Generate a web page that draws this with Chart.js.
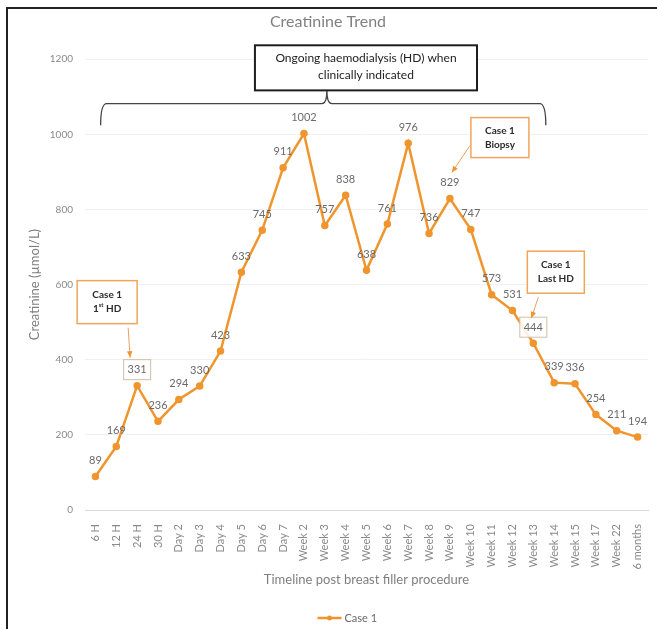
<!DOCTYPE html>
<html>
<head>
<meta charset="utf-8">
<script src="https://cdn.jsdelivr.net/npm/chart.js@4.4.1/dist/chart.umd.min.js"></script>
<style>
  html, body { margin: 0; padding: 0; background: #fff; }
  #wrap { position: relative; width: 657px; height: 629px; }
</style>
</head>
<body>
<div id="wrap"><canvas id="trend"></canvas></div>
<script>
const timeline = ["6 H", "12 H", "24 H", "30 H", "Day 2", "Day 3", "Day 4", "Day 5", "Day 6", "Day 7",
  "Week 2", "Week 3", "Week 4", "Week 5", "Week 6", "Week 7", "Week 8", "Week 9", "Week 10",
  "Week 11", "Week 12", "Week 13", "Week 14", "Week 15", "Week 17", "Week 22", "6 months"];
const creatinine = [89, 169, 331, 236, 294, 330, 423, 633, 745, 911, 1002, 757, 838, 638, 761,
  976, 736, 829, 747, 573, 531, 444, 339, 336, 254, 211, 194];
const seriesName = "Case 1";
const yTicks = [0, 200, 400, 600, 800, 1000, 1200];
const boxedPoints = [2, 21];

const ORANGE = "#F0952E";
const FONT = "Lato, 'Open Sans', sans-serif";

// callouts hanging off single points; box = [dx, dy, w, h], arrow = [x1, y1, x2, y2], px from the point
const callouts = [
  { at: 2,  lines: ["Case 1", "1st HD"],  box: [-60, -105, 60, 43], arrow: [-9, -58, -7, -28] },
  { at: 17, lines: ["Case 1", "Biopsy"],  box: [21, -81, 58, 40],   arrow: [20, -53, 2, -26] },
  { at: 21, lines: ["Case 1", "Last HD"], box: [-6, -92, 57, 42],   arrow: [5, -46, -2, -25] }
];

function arrow(ctx, x1, y1, x2, y2) {
  ctx.save();
  ctx.strokeStyle = "#E8A060";
  ctx.lineWidth = 1;
  ctx.beginPath();
  ctx.moveTo(x1, y1);
  ctx.lineTo(x2, y2);
  ctx.stroke();
  const a = Math.atan2(y2 - y1, x2 - x1);
  ctx.fillStyle = ORANGE;
  ctx.beginPath();
  ctx.moveTo(x2, y2);
  ctx.lineTo(x2 - 7 * Math.cos(a - 0.4), y2 - 7 * Math.sin(a - 0.4));
  ctx.lineTo(x2 - 7 * Math.cos(a + 0.4), y2 - 7 * Math.sin(a + 0.4));
  ctx.closePath();
  ctx.fill();
  ctx.restore();
}

// one callout line, with "1st" written as 1 + superscript
function noteLine(ctx, text, cx, cy) {
  const m = text.match(/^(\d)(st)(.*)$/);
  if (!m) { ctx.fillText(text, cx, cy); return; }
  ctx.font = "bold 10px " + FONT;
  const w1 = ctx.measureText(m[1]).width, w3 = ctx.measureText(m[3]).width;
  ctx.font = "bold 6px " + FONT;
  const w2 = ctx.measureText(m[2]).width;
  let x = cx - (w1 + w2 + w3) / 2;
  ctx.textAlign = "left";
  ctx.font = "bold 10px " + FONT;
  ctx.fillText(m[1], x, cy); x += w1;
  ctx.font = "bold 6px " + FONT;
  ctx.fillText(m[2], x, cy - 4); x += w2;
  ctx.font = "bold 10px " + FONT;
  ctx.fillText(m[3], x, cy);
  ctx.textAlign = "center";
}

const extras = {
  id: "extras",
  afterDatasetsDraw(chart) {
    const { ctx, scales: { x, y } } = chart;
    const pts = chart.getDatasetMeta(0).data;

    // value labels
    ctx.save();
    ctx.font = "11px " + FONT;
    ctx.textAlign = "center";
    ctx.textBaseline = "middle";
    pts.forEach((p, i) => {
      const ly = p.y - 16;
      if (boxedPoints.includes(i)) {
        ctx.fillStyle = "rgba(255,255,255,0.85)";
        ctx.fillRect(p.x - 13.5, ly - 10, 27, 20);
        ctx.strokeStyle = "#D2BEA6";
        ctx.lineWidth = 1;
        ctx.strokeRect(p.x - 13.5, ly - 10, 27, 20);
      }
      ctx.fillStyle = "#6a6a6a";
      ctx.fillText(String(creatinine[i]), p.x, ly);
    });

    // callout boxes and arrows
    callouts.forEach(c => {
      const p = pts[c.at];
      const [dx, dy, w, h] = c.box;
      ctx.fillStyle = "#fff";
      ctx.fillRect(p.x + dx, p.y + dy, w, h);
      ctx.strokeStyle = "#F2A55A";
      ctx.lineWidth = 1.5;
      ctx.strokeRect(p.x + dx, p.y + dy, w, h);
      ctx.fillStyle = "#2b2b2b";
      ctx.font = "bold 10px " + FONT;
      c.lines.forEach((t, k) => noteLine(ctx, t, p.x + dx + w / 2, p.y + dy + h / 2 + (k - 0.5) * 14));
      const [x1, y1, x2, y2] = c.arrow;
      arrow(ctx, p.x + x1, p.y + y1, p.x + x2, p.y + y2);
    });

    // brace spanning the dialysis period
    const bl = x.getPixelForValue(0.25), br = x.getPixelForValue(21.6);
    const bm = x.getPixelForValue(11.1);
    const by = y.getPixelForValue(1082), bEnd = y.getPixelForValue(1024);
    const bTop = y.getPixelForValue(1117);
    ctx.strokeStyle = "#444";
    ctx.lineWidth = 1.3;
    ctx.beginPath();
    ctx.moveTo(bl, bEnd);
    ctx.quadraticCurveTo(bl, by, bl + 6, by);
    ctx.lineTo(bm - 5, by);
    ctx.quadraticCurveTo(bm, by, bm, bTop);
    ctx.quadraticCurveTo(bm, by, bm + 5, by);
    ctx.lineTo(br - 6, by);
    ctx.quadraticCurveTo(br, by, br, bEnd);
    ctx.stroke();

    // dialysis text box
    const hx1 = x.getPixelForValue(7.65), hx2 = x.getPixelForValue(18.3);
    const hy1 = y.getPixelForValue(1237);
    ctx.fillStyle = "#fff";
    ctx.fillRect(hx1, hy1, hx2 - hx1, bTop - hy1);
    ctx.strokeStyle = "#1e1e1e";
    ctx.lineWidth = 2;
    ctx.strokeRect(hx1, hy1, hx2 - hx1, bTop - hy1);
    ctx.fillStyle = "#222";
    ctx.font = "12px " + FONT;
    ctx.fillText("Ongoing haemodialysis (HD) when", (hx1 + hx2) / 2, hy1 + 13);
    ctx.fillText("clinically indicated", (hx1 + hx2) / 2, hy1 + 30);

    // legend
    const lx = chart.width / 2 + 16, lyy = 618;
    ctx.strokeStyle = ORANGE;
    ctx.lineWidth = 2.5;
    ctx.beginPath();
    ctx.moveTo(lx - 27, lyy);
    ctx.lineTo(lx - 3, lyy);
    ctx.stroke();
    ctx.fillStyle = ORANGE;
    ctx.beginPath();
    ctx.arc(lx - 15, lyy, 2.5, 0, Math.PI * 2);
    ctx.fill();
    ctx.fillStyle = "#6a6a6a";
    ctx.font = "11px " + FONT;
    ctx.textAlign = "left";
    ctx.fillText(seriesName, lx, lyy);

    // outer frame (top and left edges)
    ctx.strokeStyle = "#222";
    ctx.lineWidth = 2;
    ctx.beginPath();
    ctx.moveTo(7, 629);
    ctx.lineTo(7, 8);
    ctx.lineTo(657, 8);
    ctx.stroke();
    ctx.restore();
  }
};

new Chart(document.getElementById("trend"), {
  type: "line",
  data: {
    labels: timeline,
    datasets: [{
      label: seriesName,
      data: creatinine,
      borderColor: ORANGE,
      backgroundColor: ORANGE,
      borderWidth: 2.5,
      pointRadius: 2.5,
      pointHoverRadius: 2.5,
      tension: 0
    }]
  },
  options: {
    responsive: true,
    maintainAspectRatio: false,
    animation: false,
    layout: { padding: { left: 8, right: 9, top: 0, bottom: 30 } },
    plugins: {
      legend: { display: false },
      tooltip: { enabled: false },
      title: {
        display: true,
        text: "Creatinine Trend",
        color: "#808080",
        font: { family: FONT, size: 16, weight: "normal" },
        padding: { top: 12, bottom: 28 }
      }
    },
    scales: {
      x: {
        offset: true,
        grid: { display: false },
        border: { display: true, color: "#d9d9d9" },
        ticks: {
          color: "#8a8a8a", font: { family: FONT, size: 11 },
          maxRotation: 90, minRotation: 90, autoSkip: false, padding: 6
        },
        title: {
          display: true, text: "Timeline post breast filler procedure",
          color: "#7f7f7f", font: { family: FONT, size: 13 }, padding: { top: 0, bottom: 11 }
        },
        afterFit(s) { s.height = 89; }
      },
      y: {
        min: 0, max: 1200,
        afterBuildTicks(s) { s.ticks = yTicks.map(v => ({ value: v })); },
        grid: { color: "#f0f0f0", drawTicks: false },
        border: { display: false },
        ticks: {
          color: "#8a8a8a", font: { family: FONT, size: 10 }, padding: 12,
          callback: v => String(v)
        },
        title: {
          display: true, text: "Creatinine (\u00b5mol/L)",
          color: "#7f7f7f", font: { family: FONT, size: 13 }, padding: { top: 19 }
        },
        afterFit(s) { s.width = 77; }
      }
    }
  },
  plugins: [extras]
});
</script>
</body>
</html>
